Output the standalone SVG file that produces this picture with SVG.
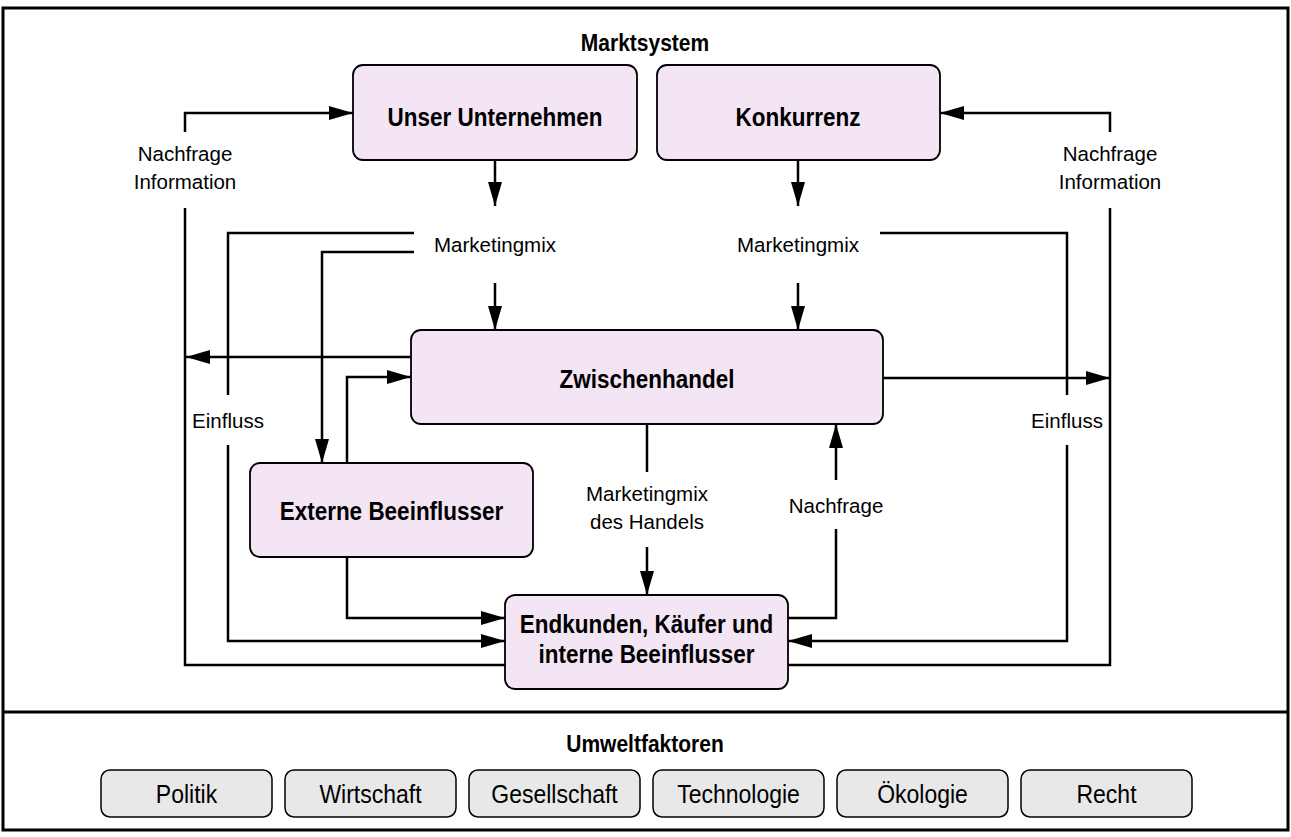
<svg xmlns="http://www.w3.org/2000/svg" width="1291" height="837" viewBox="0 0 1291 837">
  <defs>
    <marker id="arrow" markerUnits="userSpaceOnUse" markerWidth="24" markerHeight="14" refX="24" refY="7" orient="auto">
      <path d="M0,0 L24,7 L0,14 z" fill="#000"/>
    </marker>
    <style>
      .frame { fill: #fff; stroke: #000; stroke-width: 3; }
      .node rect { fill: #f3e5f4; stroke: #000; stroke-width: 1.8; }
      .pill rect { fill: #e8e8e8; stroke: #000; stroke-width: 1.5; }
      .conn path { fill: none; stroke: #000; stroke-width: 2.5; }
      .conn path.arr { marker-end: url(#arrow); }
      text { font-family: "Liberation Sans", Arial, sans-serif; fill: #000; text-anchor: middle; }
      .title { font-size: 21px; font-weight: bold; }
      .lbl { font-size: 22.5px; font-weight: bold; }
      .edge { font-size: 20.5px; }
      .pill text { font-size: 23px; }
    </style>
  </defs>

  <!-- outer frame and section divider -->
  <rect class="frame" x="3" y="8" width="1285" height="822"/>
  <line x1="3" y1="712" x2="1288" y2="712" stroke="#000" stroke-width="3"/>

  <!-- bold texts are stretched vertically around their baseline for a condensed look -->
  <text class="title" transform="translate(645,51) scale(1,1.15)">Marktsystem</text>
  <text class="title" transform="translate(645,752) scale(1,1.15)">Umweltfaktoren</text>

  <!-- connectors -->
  <g id="connectors" class="conn">
    <path class="arr" d="M185,132 V113 H353"/>
    <path d="M185,208 V665 H505"/>
    <path class="arr" d="M1110,132 V113 H940"/>
    <path d="M1110,208 V665 H788"/>

    <path class="arr" d="M495,160 V206"/>
    <path class="arr" d="M495,283 V330"/>
    <path class="arr" d="M798,160 V206"/>
    <path class="arr" d="M798,283 V330"/>

    <path d="M414,233 H228 V395"/>
    <path class="arr" d="M228,445 V641 H505"/>
    <path class="arr" d="M414,252 H322 V463"/>
    <path d="M880,233 H1067 V395"/>
    <path class="arr" d="M1067,445 V641 H788"/>

    <path class="arr" d="M411,357 H186"/>
    <path class="arr" d="M883,378 H1110"/>
    <path class="arr" d="M347,463 V377 H411"/>
    <path class="arr" d="M347,557 V618 H505"/>

    <path d="M647,424 V472"/>
    <path class="arr" d="M647,547 V595"/>
    <path d="M836,529 V618 H788"/>
    <path class="arr" d="M836,480 V424"/>
  </g>

  <!-- connector labels -->
  <g id="edge-labels">
    <text class="edge" x="185" y="161">Nachfrage</text>
    <text class="edge" x="185" y="189">Information</text>
    <text class="edge" x="1110" y="161">Nachfrage</text>
    <text class="edge" x="1110" y="189">Information</text>
    <text class="edge" x="495" y="252">Marketingmix</text>
    <text class="edge" x="798" y="252">Marketingmix</text>
    <text class="edge" x="228" y="428">Einfluss</text>
    <text class="edge" x="1067" y="428">Einfluss</text>
    <text class="edge" x="647" y="501">Marketingmix</text>
    <text class="edge" x="647" y="529">des Handels</text>
    <text class="edge" x="836" y="513">Nachfrage</text>
  </g>

  <!-- market nodes -->
  <g id="unser-unternehmen" class="node">
    <rect x="353" y="65" width="284" height="95" rx="10"/>
    <text class="lbl" transform="translate(495,126) scale(1,1.18)">Unser Unternehmen</text>
  </g>
  <g id="konkurrenz" class="node">
    <rect x="657" y="65" width="283" height="95" rx="10"/>
    <text class="lbl" transform="translate(798,126) scale(1,1.18)">Konkurrenz</text>
  </g>
  <g id="zwischenhandel" class="node">
    <rect x="411" y="330" width="472" height="94" rx="10"/>
    <text class="lbl" transform="translate(647,388) scale(1,1.18)">Zwischenhandel</text>
  </g>
  <g id="externe-beeinflusser" class="node">
    <rect x="250" y="463" width="283" height="94" rx="10"/>
    <text class="lbl" transform="translate(391.5,520) scale(1,1.18)">Externe Beeinflusser</text>
  </g>
  <g id="endkunden" class="node">
    <rect x="505" y="595" width="283" height="94" rx="10"/>
    <text class="lbl" transform="translate(646.5,633) scale(1,1.18)">Endkunden, Käufer und</text>
    <text class="lbl" transform="translate(646.5,663) scale(1,1.18)">interne Beeinflusser</text>
  </g>

  <!-- environmental factors -->
  <g id="politik" class="pill">
    <rect x="101" y="770" width="171" height="47" rx="9"/>
    <text transform="translate(186.5,803) scale(1,1.1)">Politik</text>
  </g>
  <g id="wirtschaft" class="pill">
    <rect x="285" y="770" width="171" height="47" rx="9"/>
    <text transform="translate(370.5,803) scale(1,1.1)">Wirtschaft</text>
  </g>
  <g id="gesellschaft" class="pill">
    <rect x="469" y="770" width="171" height="47" rx="9"/>
    <text transform="translate(554.5,803) scale(1,1.1)">Gesellschaft</text>
  </g>
  <g id="technologie" class="pill">
    <rect x="653" y="770" width="171" height="47" rx="9"/>
    <text transform="translate(738.5,803) scale(1,1.1)">Technologie</text>
  </g>
  <g id="oekologie" class="pill">
    <rect x="837" y="770" width="171" height="47" rx="9"/>
    <text transform="translate(922.5,803) scale(1,1.1)">Ökologie</text>
  </g>
  <g id="recht" class="pill">
    <rect x="1021" y="770" width="171" height="47" rx="9"/>
    <text transform="translate(1106.5,803) scale(1,1.1)">Recht</text>
  </g>
</svg>
